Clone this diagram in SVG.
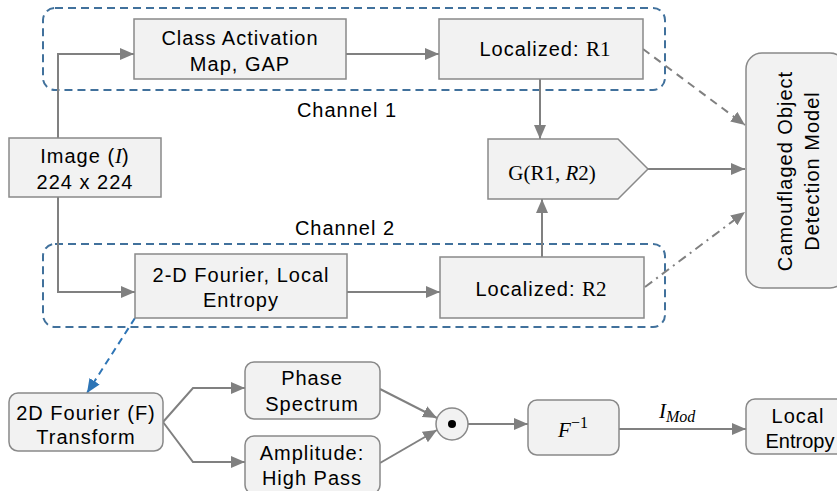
<svg xmlns="http://www.w3.org/2000/svg" width="837" height="491" viewBox="0 0 837 491">
  <style>
    .box { fill: #f2f2f2; stroke: #898989; stroke-width: 1.5; }
    .chan { fill: none; stroke: #41719c; stroke-width: 2; stroke-dasharray: 8 5; }
    .ln { fill: none; stroke: #808080; stroke-width: 2; }
    .t { font-family: "Liberation Sans", Arial, sans-serif; font-size: 20px; fill: #000; letter-spacing: 1px; text-anchor: middle; }
    .m { font-family: "Liberation Serif", "Times New Roman", serif; font-size: 21px; letter-spacing: 0; }
    .i { font-style: italic; }
  </style>
  <defs>
    <marker id="arr" markerUnits="userSpaceOnUse" markerWidth="15" markerHeight="13" refX="14" refY="6" orient="auto">
      <path d="M0,0 L14,6 L0,12 z" fill="#808080"/>
    </marker>
    <marker id="arrBlue" markerUnits="userSpaceOnUse" markerWidth="15" markerHeight="13" refX="14" refY="6" orient="auto">
      <path d="M0,0 L14,6 L0,12 z" fill="#2e75b6"/>
    </marker>
  </defs>

  <rect width="837" height="491" fill="#ffffff"/>

  <!-- channel frames -->
  <g id="channel1">
    <rect class="chan" x="43" y="8" width="622" height="82" rx="12"/>
    <text class="t" x="347" y="117">Channel 1</text>
  </g>
  <g id="channel2">
    <rect class="chan" x="43" y="244" width="622" height="83" rx="12"/>
    <text class="t" x="345" y="235">Channel 2</text>
  </g>

  <!-- connectors -->
  <g id="connectors">
    <path class="ln" d="M58,138 V54 H134" marker-end="url(#arr)"/>
    <path class="ln" d="M58,197 V292 H135" marker-end="url(#arr)"/>
    <path class="ln" d="M346,54 H439" marker-end="url(#arr)"/>
    <path class="ln" d="M347,292 H440" marker-end="url(#arr)"/>
    <path class="ln" d="M540,79 V139" marker-end="url(#arr)"/>
    <path class="ln" d="M542,257 V199" marker-end="url(#arr)"/>
    <path class="ln" d="M648,169 H745" marker-end="url(#arr)"/>
    <path class="ln" d="M643,49 L745,125" stroke-dasharray="8 6" marker-end="url(#arr)"/>
    <path class="ln" d="M645,287 L745,212" stroke-dasharray="9 5 2 5" marker-end="url(#arr)"/>
    <path d="M135,318 L87,393" fill="none" stroke="#2e75b6" stroke-width="2" stroke-dasharray="7 5" marker-end="url(#arrBlue)"/>
    <path class="ln" d="M163,422 L193,388 H245" marker-end="url(#arr)"/>
    <path class="ln" d="M163,422 L193,462 H245" marker-end="url(#arr)"/>
    <path class="ln" d="M380,389 L437,418" marker-end="url(#arr)"/>
    <path class="ln" d="M380,463 L437,430" marker-end="url(#arr)"/>
    <path class="ln" d="M468,424 H528" marker-end="url(#arr)"/>
    <path class="ln" d="M619,429 H746" marker-end="url(#arr)"/>
    <text class="t m i" x="659" y="418" style="text-anchor:start">I<tspan font-size="16" dy="4">Mod</tspan></text>
  </g>

  <!-- nodes -->
  <g id="image">
    <rect class="box" x="9" y="138" width="152" height="59"/>
    <text class="t" x="85" y="163">Image (<tspan class="m i">I</tspan>)</text>
    <text class="t" x="85" y="189">224 x 224</text>
  </g>
  <g id="cam">
    <rect class="box" x="134" y="19" width="212" height="60"/>
    <text class="t" x="240" y="45">Class Activation</text>
    <text class="t" x="240" y="71">Map, GAP</text>
  </g>
  <g id="r1">
    <rect class="box" x="439" y="19" width="204" height="60"/>
    <text class="t" x="545" y="56">Localized: <tspan class="m">R1</tspan></text>
  </g>
  <g id="fourier-entropy">
    <rect class="box" x="135" y="254" width="212" height="64"/>
    <text class="t" x="241" y="282">2-D Fourier, Local</text>
    <text class="t" x="241" y="307">Entropy</text>
  </g>
  <g id="r2">
    <rect class="box" x="440" y="257" width="204" height="61"/>
    <text class="t" x="541" y="296">Localized: <tspan class="m">R2</tspan></text>
  </g>
  <g id="gate">
    <polygon class="box" points="488,139 618,139 648,169 618,199 488,199"/>
    <text class="t m" x="552" y="180">G(R1, <tspan class="i">R</tspan>2)</text>
  </g>
  <g id="codm">
    <rect class="box" x="746" y="53" width="100" height="235" rx="16"/>
    <g transform="translate(792,171) rotate(-90)">
      <text class="t" x="0" y="0">Camouflaged Object</text>
      <text class="t" x="0" y="27">Detection Model</text>
    </g>
  </g>
  <g id="fft">
    <rect class="box" x="9" y="393" width="154" height="58" rx="9"/>
    <text class="t" x="86" y="420">2D Fourier (F)</text>
    <text class="t" x="86" y="444">Transform</text>
  </g>
  <g id="phase">
    <rect class="box" x="245" y="362" width="135" height="57" rx="9"/>
    <text class="t" x="312" y="385">Phase</text>
    <text class="t" x="312" y="411">Spectrum</text>
  </g>
  <g id="amplitude">
    <rect class="box" x="245" y="436" width="135" height="58" rx="9"/>
    <text class="t" x="312" y="460">Amplitude:</text>
    <text class="t" x="312" y="485">High Pass</text>
  </g>
  <g id="product">
    <circle class="box" cx="452" cy="424" r="16"/>
    <circle cx="452" cy="424" r="4" fill="#000"/>
  </g>
  <g id="inverse">
    <rect class="box" x="528" y="400" width="91" height="55" rx="9"/>
    <text class="t m i" x="573" y="437">F<tspan font-size="16" font-style="normal" dy="-9">−1</tspan></text>
  </g>
  <g id="local-entropy">
    <rect class="box" x="746" y="399" width="104" height="55" rx="9"/>
    <text class="t" x="798" y="423">Local</text>
    <text class="t" x="800" y="448" style="letter-spacing:0">Entropy</text>
  </g>
</svg>
